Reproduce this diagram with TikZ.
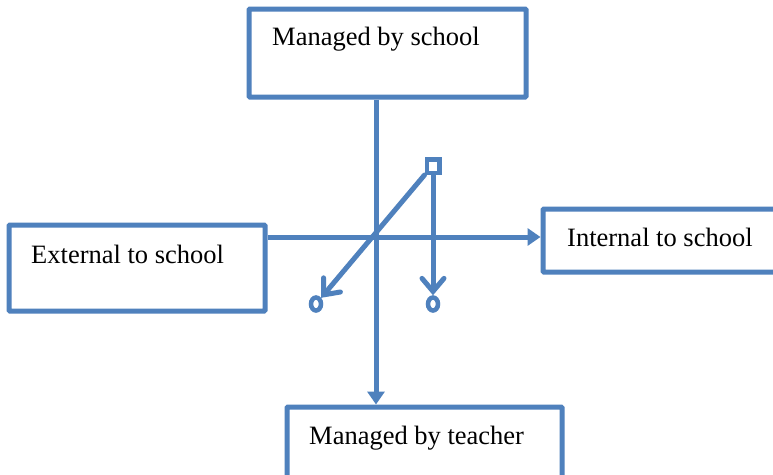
\documentclass[tikz,border=0pt]{standalone}
\usepackage{fontspec}
\setmainfont{Liberation Serif}
\usetikzlibrary{arrows.meta,shapes.geometric}
\definecolor{lineblue}{HTML}{4F81BD}
\tikzset{
  box/.style={draw=lineblue, line width=5pt, rectangle, rounded corners=1pt, inner sep=0pt},
  label text/.style={anchor=base west, inner sep=0pt, font=\fontsize{26.5}{30}\selectfont},
  conn/.style={draw=lineblue, line width=5pt},
  mainarrow/.style={conn, -{Triangle[length=13pt,width=17pt]}},
  openarrow/.style={conn, line cap=round, -{Straight Barb[length=13pt,width=22pt,line cap=round]}},
  endcircle/.style={draw=lineblue, line width=4.5pt, ellipse, minimum width=10pt, minimum height=13pt, inner sep=0pt},
  smallsq/.style={draw=lineblue, line width=4.5pt, rectangle, minimum width=12.5pt, minimum height=13.5pt, inner sep=0pt}
}
\begin{document}
\begin{tikzpicture}[x=1pt,y=-1pt]
\clip (0,0) rectangle (773,474);
\fill[white] (0,0) rectangle (773,474);
% boxes
\node[box, minimum width=277pt, minimum height=88pt] (top) at (387.5,53) {};
\node[box, minimum width=256pt, minimum height=86pt] (left) at (137,268) {};
\node[box, minimum width=247pt, minimum height=63pt] (right) at (666.5,240.5) {};
\node[box, minimum width=275pt, minimum height=83pt] (bottom) at (424.5,448.5) {};
% texts
\node[label text] (toptext) at (272,45) {Managed by school};
\node[label text] (lefttext) at (31,263) {External to school};
\node[label text] (righttext) at (567,246) {Internal to school};
\node[label text] (bottomtext) at (309,444) {Managed by teacher};
% crossing point
\coordinate (vx) at (376,237);
\draw[mainarrow] (vx |- top.south) -- (vx |- bottom.north);
\draw[mainarrow] (left.east |- vx) -- (right.west |- vx);
% small square and circles
\node[smallsq] (sq) at (433,166) {};
\node[endcircle] (c1) at (316,304) {};
\node[endcircle] (c2) at (433,304) {};
\draw[openarrow] (sq.south west) -- (c1.north east);
\draw[openarrow] (sq.south) -- (c2.north);
\end{tikzpicture}
\end{document}
